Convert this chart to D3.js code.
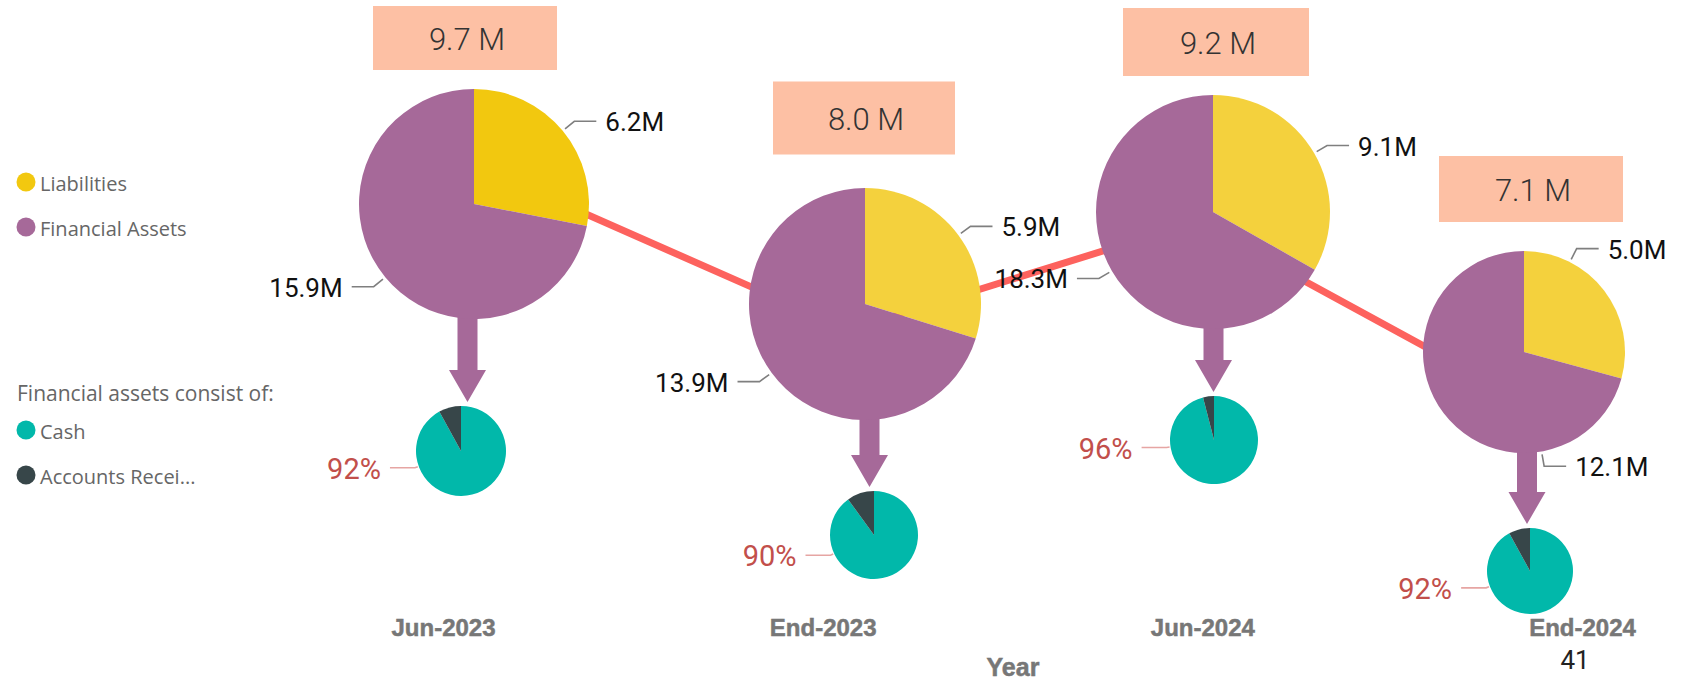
<!DOCTYPE html>
<html><head><meta charset="utf-8">
<script src="https://cdn.jsdelivr.net/npm/d3@7"></script>
<style>body{margin:0;background:#fff;} svg{display:block}</style>
</head><body><svg id="chart" width="1696" height="681"></svg>
<script>
// ---------- data ----------
const categories = ["Jun-2023", "End-2023", "Jun-2024", "End-2024"];
const liabilities = [6.2, 5.9, 9.1, 5.0];
const financialAssets = [15.9, 13.9, 18.3, 12.1];
const netValue = [9.7, 8.0, 9.2, 7.1];
const cashShare = [92, 90, 96, 92];
const receivablesShare = [8, 10, 4, 8];
const legendMain = ["Liabilities", "Financial Assets"];
const legendSubTitle = "Financial assets consist of:";
const legendSub = ["Cash", "Accounts Recei..."];
const axisTitle = "Year";
const pageNumber = "41";

// ---------- layout & style (kept separate from data) ----------
const layout = {
  big:   [{cx:474,cy:204,r:115},{cx:865,cy:304,r:116},{cx:1213,cy:212,r:117},{cx:1524,cy:352,r:101}],
  small: [{cx:461,cy:451,r:45},{cx:874,cy:535,r:44},{cx:1214,cy:440,r:44},{cx:1530,cy:571,r:43}],
  box:   [{cx:465,cy:38,w:184,h:64},{cx:864,cy:118,w:182,h:73},{cx:1216,cy:42,w:186,h:68},{cx:1531,cy:189,w:184,h:66}],
  bigLabelAngle: [null, null, null, [27, 170]],
  smallLabelAngle: [250, 245, 261, 249]
};
const liabColors = ["#F2C80F", "#F4D13D", "#F4D13D", "#F4D13D"];
const faColor = "#A66999", cashColor = "#01B8AA", arColor = "#374649";
const lineColor = "#FD625E", boxColor = "#FDC0A4";

const svg = d3.select("#chart");

// scales
const xAxisScale = d3.scalePoint().domain(categories).range([443, 1582]);
const xLine = d3.scalePoint().domain(categories).range([502, 1543]);
const yLine = d3.scaleLinear().domain([7, 10]).range([420, 150]);

// line (behind everything)
svg.append("path")
  .datum(categories.map((c, i) => ({c, v: netValue[i]})))
  .attr("d", d3.line().x(d => xLine(d.c)).y(d => yLine(d.v)))
  .attr("fill", "none").attr("stroke", lineColor).attr("stroke-width", 7);

const pie = d3.pie().sort(null).value(d => d.v);
const pt = (cx, cy, rad, a) => [cx + rad * Math.sin(a), cy - rad * Math.cos(a)];

categories.forEach((c, i) => {
  const B = layout.big[i], S = layout.small[i], X = layout.box[i];

  // arrow from big pie to small pie
  const ax = (B.cx + S.cx) / 2, y0 = B.cy + B.r - 3, tip = S.cy - S.r - 4, hl = 32, sw = 10, hw = 18.5;
  svg.append("path")
    .attr("d", d3.line()([[ax - sw, y0], [ax + sw, y0], [ax + sw, tip - hl], [ax + hw, tip - hl], [ax, tip], [ax - hw, tip - hl], [ax - sw, tip - hl]]) + "Z")
    .attr("fill", faColor);

  // big pie
  const bigData = pie([{k: "L", v: liabilities[i]}, {k: "F", v: financialAssets[i]}]);
  const g = svg.append("g").attr("transform", `translate(${B.cx},${B.cy})`);
  g.selectAll("path").data(bigData).join("path")
    .attr("d", d3.arc().innerRadius(0).outerRadius(B.r))
    .attr("fill", d => d.data.k === "L" ? liabColors[i] : faColor);

  bigData.forEach((d, j) => {
    const ov = layout.bigLabelAngle[i];
    const a = ov ? ov[j] * Math.PI / 180 : (d.startAngle + d.endAngle) / 2;
    const p0 = pt(B.cx, B.cy, B.r + 3, a), p1 = pt(B.cx, B.cy, B.r + 15, a);
    const right = Math.sin(a) >= 0;
    const p2 = [p1[0] + (right ? 22 : -22), p1[1]];
    svg.append("path").attr("d", d3.line()([p0, p1, p2]))
      .attr("fill", "none").attr("stroke", "#7f7f7f").attr("stroke-width", 1.6);
    svg.append("text").attr("x", p2[0] + (right ? 9 : -9)).attr("y", p2[1] + 1)
      .attr("text-anchor", right ? "start" : "end").attr("dominant-baseline", "central")
      .attr("font-family", "Roboto").attr("font-size", 26).attr("fill", "#111")
      .text(d3.format(".1f")(d.data.v) + "M");
  });

  // small pie
  const smallData = pie([{k: "C", v: cashShare[i]}, {k: "A", v: receivablesShare[i]}]);
  const gs = svg.append("g").attr("transform", `translate(${S.cx},${S.cy})`);
  gs.selectAll("path").data(smallData).join("path")
    .attr("d", d3.arc().innerRadius(0).outerRadius(S.r))
    .attr("fill", d => d.data.k === "C" ? cashColor : arColor);
  const sa = layout.smallLabelAngle[i] * Math.PI / 180;
  const q0 = pt(S.cx, S.cy, S.r + 1, sa), q1 = pt(S.cx, S.cy, S.r + 4, sa), q2 = [q1[0] - 25, q1[1]];
  svg.append("path").attr("d", d3.line()([q0, q1, q2]))
    .attr("fill", "none").attr("stroke", "#E6A5A3").attr("stroke-width", 1.6);
  svg.append("text").attr("x", q2[0] - 9).attr("y", q2[1] + 1)
    .attr("text-anchor", "end").attr("dominant-baseline", "central")
    .attr("font-family", "Roboto").attr("font-size", 29).attr("fill", "#C24F4B")
    .text(cashShare[i] + "%");

  // value box
  svg.append("rect").attr("x", X.cx - X.w / 2).attr("y", X.cy - X.h / 2)
    .attr("width", X.w).attr("height", X.h).attr("fill", boxColor);
  svg.append("text").attr("x", X.cx + 2).attr("y", X.cy + 1)
    .attr("text-anchor", "middle").attr("dominant-baseline", "central")
    .attr("font-family", "Roboto").attr("font-weight", 300).attr("font-size", 31).attr("fill", "#333")
    .text(d3.format(".1f")(netValue[i]) + " M");
});

// x axis
const ax = svg.append("g").attr("transform", "translate(0,619)")
  .call(d3.axisBottom(xAxisScale).tickSize(0).tickPadding(0));
ax.select(".domain").remove();
ax.selectAll("text").attr("font-family", "Liberation Sans").attr("font-weight", "bold")
  .attr("font-size", 24).attr("fill", "#777").attr("stroke", "#777").attr("stroke-width", 0.5);
svg.append("text").attr("x", 1013).attr("y", 676).attr("text-anchor", "middle")
  .attr("font-family", "Liberation Sans").attr("font-weight", "bold").attr("font-size", 25)
  .attr("fill", "#777").attr("stroke", "#777").attr("stroke-width", 0.5).text(axisTitle);
svg.append("text").attr("x", 1575).attr("y", 669).attr("text-anchor", "middle")
  .attr("font-family", "Roboto").attr("font-size", 26).attr("fill", "#222").text(pageNumber);

// legend
const legendFont = "Open Sans";
const lg = svg.append("g");
const mainItems = legendMain.map((t, i) => ({t, color: i === 0 ? liabColors[0] : faColor, y: 182 + i * 45}));
const subItems = legendSub.map((t, i) => ({t, color: i === 0 ? cashColor : arColor, y: 430 + i * 45}));
[...mainItems, ...subItems].forEach(d => {
  lg.append("circle").attr("cx", 26).attr("cy", d.y).attr("r", 9.5).attr("fill", d.color);
  lg.append("text").attr("x", 40).attr("y", d.y + 1).attr("dominant-baseline", "central")
    .attr("font-family", legendFont).attr("font-size", 20).attr("fill", "#666").text(d.t);
});
lg.append("text").attr("x", 17).attr("y", 393).attr("dominant-baseline", "central")
  .attr("font-family", legendFont).attr("font-size", 21).attr("fill", "#666").text(legendSubTitle);
</script></body></html>
